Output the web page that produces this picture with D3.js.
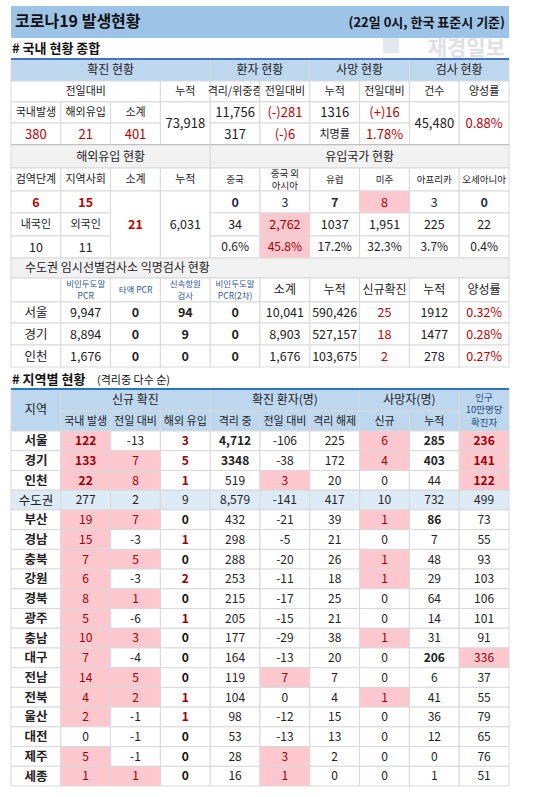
<!DOCTYPE html>
<html>
<head>
<meta charset="utf-8">
<script src="https://cdn.jsdelivr.net/npm/d3@7"></script>
<style>
  body { margin: 0; background: #fff; }
  text { font-family: "Noto Sans CJK KR", "Noto Sans", sans-serif; }
</style>
</head>
<body>
<svg id="chart" width="548" height="797"></svg>
<script>
// --- data ---
const summaryHead = ['확진 현황', '환자 현황', '사망 현황', '검사 현황'];
const summarySub = ['전일대비', '누적', '격리/위중증', '전일대비', '누적', '전일대비', '건수', '양성률'];
const summaryTop = ['국내발생', '해외유입', '소계', '73,918', '11,756', '(-)281', '1316', '(+)16', '45,480', '0.88%'];
const summaryBottom = ['380', '21', '401', '317', '(-)6', '치명률', '1.78%'];

const importCols = ['검역단계', '지역사회', '소계', '누적', '중국', '중국 외\n아시아', '유럽', '미주', '아프리카', '오세아니아'];
const importStage = ['6', '15'];
const importNation = ['내국인', '외국인'];
const importNationVals = ['10', '11'];
const importTotal = '21';
const importCum = '6,031';
const countryNew = [0, 3, 7, 8, 3, 0];
const countryCum = ['34', '2,762', '1037', '1,951', '225', '22'];
const countryPct = ['0.6%', '45.8%', '17.2%', '32.3%', '3.7%', '0.4%'];

const anonCols = ['', '비인두도말\nPCR', '타액 PCR', '신속항원\n검사', '비인두도말\nPCR(2차)', '소계', '누적', '신규확진', '누적', '양성률'];
const anonCity = ['서울', '경기', '인천'];
const anonPcr = ['9,947', '8,894', '1,676'];
const anonSaliva = ['0', '0', '0'];
const anonRapid = ['94', '9', '0'];
const anonPcr2 = ['0', '0', '0'];
const anonSub = ['10,041', '8,903', '1,676'];
const anonCum = ['590,426', '527,157', '103,675'];
const anonNew = ['25', '18', '2'];
const anonNewCum = ['1912', '1477', '278'];
const anonRate = ['0.32%', '0.28%', '0.27%'];

const regions = ['서울','경기','인천','수도권','부산','경남','충북','강원','경북','광주','충남','대구','전남','전북','울산','대전','제주','세종'];
const localCases = [122,133,22,277,19,15,7,6,8,5,10,7,14,4,2,0,5,1];
const localDiff = [-13,7,8,2,7,-3,5,-3,1,-6,3,-4,5,2,-1,-1,-1,1];
const importedCases = [3,5,1,9,0,1,0,2,0,1,0,0,0,1,1,0,0,0];
const isolating = ['4,712','3348','519','8,579','432','298','288','253','215','205','177','164','119','104','98','53','28','16'];
const isoDiff = [-106,-38,3,-141,-21,-5,-20,-11,-17,-15,-29,-13,7,0,-12,-13,3,1];
const released = [225,172,20,417,39,21,26,18,25,21,38,20,7,4,15,13,2,0];
const deathNew = [6,4,0,10,1,0,1,1,0,0,1,0,0,1,0,0,0,0];
const deathCum = [285,403,44,732,86,7,48,29,64,14,31,206,6,41,36,12,0,1];
const per100k = [236,141,122,499,73,55,93,103,106,101,91,336,37,55,79,65,76,51];

// --- drawing ---
const svg = d3.select('#chart');
const x = d3.scaleLinear().domain([0, 10]).range([11, 509]);
const BLUE = '#bdd7ee', GRAY = '#f2f2f2', PINK = '#ffc7ce', RED = '#c00000', DARKRED = '#9c0006';

function cell(c0, c1, y0, y1, txt, o = {}) {
  const g = svg.append('g');
  g.append('rect')
    .attr('x', x(c0)).attr('y', y0)
    .attr('width', x(c1) - x(c0)).attr('height', y1 - y0)
    .attr('fill', o.fill || '#fff')
    .attr('stroke', '#d9d9d9').attr('stroke-width', 1);
  if (txt === '' || txt == null) return;
  const lines = String(txt).split('\n');
  const fs = o.size || 12.5;
  const lh = fs * 1.35;
  const cx = o.left ? x(c0) + 14 : (x(c0) + x(c1)) / 2;
  const cy = (y0 + y1) / 2 - (lines.length - 1) * lh / 2;
  g.selectAll('text').data(lines).join('text')
    .attr('x', cx)
    .attr('y', (d, i) => cy + i * lh)
    .attr('dy', '0.36em')
    .attr('text-anchor', o.left ? 'start' : 'middle')
    .attr('font-size', fs)
    .attr('font-weight', o.bold ? 700 : 400)
    .attr('fill', o.color || '#222')
    .text(d => d);
}

// title bar
svg.append('rect').attr('x', 11).attr('y', 6).attr('width', 498).attr('height', 32).attr('fill', '#9dc3e6');
svg.append('text').attr('x', 15).attr('y', 27).attr('font-size', 16).attr('font-weight', 700).attr('fill', '#111').text('코로나19 발생현황');
svg.append('text').attr('x', 505).attr('y', 27).attr('text-anchor', 'end').attr('font-size', 13).attr('font-weight', 700).attr('fill', '#111').text('(22일 0시, 한국 표준시 기준)');
svg.append('text').attr('x', 505).attr('y', 55).attr('text-anchor', 'end').attr('font-size', 21).attr('font-weight', 700).attr('fill', '#dde1e6').text('재경일보');
svg.append('rect').attr('x', 383).attr('y', 38).attr('width', 16).attr('height', 15).attr('fill', '#e3e8ee');

function sectionTitle(y, t) {
  svg.append('text').attr('x', 12).attr('y', y).attr('font-size', 13).attr('font-weight', 700).attr('fill', '#111').text(t);
}

// section 1
sectionTitle(53, '# 국내 현황 종합');
const r1 = [59, 81, 102, 123, 145];
[[0, 4], [4, 6], [6, 8], [8, 10]].forEach((s, i) => cell(s[0], s[1], r1[0], r1[1], summaryHead[i], { fill: BLUE, size: 12 }));
[[0, 3], [3, 4], [4, 5], [5, 6], [6, 7], [7, 8], [8, 9], [9, 10]].forEach((s, i) => cell(s[0], s[1], r1[1], r1[2], summarySub[i], { size: 11 }));
cell(0, 1, r1[2], r1[3], summaryTop[0], { size: 11 });
cell(1, 2, r1[2], r1[3], summaryTop[1], { size: 11 });
cell(2, 3, r1[2], r1[3], summaryTop[2], { size: 11 });
cell(3, 4, r1[2], r1[4], summaryTop[3], { size: 13 });
cell(4, 5, r1[2], r1[3], summaryTop[4], { size: 13 });
cell(5, 6, r1[2], r1[3], summaryTop[5], { size: 13, color: RED });
cell(6, 7, r1[2], r1[3], summaryTop[6], { size: 13 });
cell(7, 8, r1[2], r1[3], summaryTop[7], { size: 13, color: RED });
cell(8, 9, r1[2], r1[4], summaryTop[8], { size: 13 });
cell(9, 10, r1[2], r1[4], summaryTop[9], { size: 13, color: RED });
[0, 1, 2, 4, 5, 6, 7].forEach((c, i) => {
  const t = summaryBottom[i];
  cell(c, c + 1, r1[3], r1[4], t, { size: t === '치명률' ? 11 : 13, color: (c === 4 || t === '치명률') ? '#222' : RED });
});
svg.append('line').attr('x1', 11).attr('x2', 509).attr('y1', 59).attr('y2', 59).attr('stroke', '#4472c4').attr('stroke-width', 2);
svg.append('line').attr('x1', 11).attr('x2', 509).attr('y1', 145).attr('y2', 145).attr('stroke', '#a6a6a6').attr('stroke-width', 2);

// section 2
const r2 = [145, 168, 191, 213, 236, 258];
cell(0, 4, r2[0], r2[1], '해외유입 현황', { fill: GRAY, size: 12 });
cell(4, 10, r2[0], r2[1], '유입국가 현황', { fill: GRAY, size: 12 });
importCols.forEach((t, i) => cell(i, i + 1, r2[1], r2[2], t, { size: i < 4 ? 11 : 9.5 }));
importStage.forEach((t, i) => cell(i, i + 1, r2[2], r2[3], t, { size: 12.5, bold: true, color: RED }));
importNation.forEach((t, i) => cell(i, i + 1, r2[3], r2[4], t, { size: 11 }));
importNationVals.forEach((t, i) => cell(i, i + 1, r2[4], r2[5], t, { size: 12.5 }));
cell(2, 3, r2[2], r2[5], importTotal, { size: 12.5, bold: true, color: RED });
cell(3, 4, r2[2], r2[5], importCum, { size: 12.5 });
countryNew.forEach((v, i) => cell(4 + i, 5 + i, r2[2], r2[3], v, { size: 12.5, bold: v === 0 || v === 7, fill: v === 8 ? PINK : '#fff', color: v === 8 ? DARKRED : '#1f2d4a' }));
countryCum.forEach((t, i) => cell(4 + i, 5 + i, r2[3], r2[4], t, { size: 12.5, fill: i === 1 ? PINK : '#fff', color: i === 1 ? DARKRED : '#222' }));
countryPct.forEach((t, i) => cell(4 + i, 5 + i, r2[4], r2[5], t, { size: 12, fill: i === 1 ? PINK : '#fff', color: i === 1 ? DARKRED : '#222' }));

// section 3
const r3 = [258, 278, 302, 323, 345, 367];
cell(0, 10, r3[0], r3[1], '수도권 임시선별검사소 익명검사 현황', { fill: GRAY, size: 12, left: true });
anonCols.forEach((t, i) => cell(i, i + 1, r3[1], r3[2], t, { size: i >= 1 && i <= 4 ? 8.5 : 12, color: i >= 1 && i <= 4 ? '#2f5597' : '#222' }));
anonCity.forEach((c, j) => {
  const y0 = r3[j + 2], y1 = r3[j + 3];
  const row = [c, anonPcr[j], anonSaliva[j], anonRapid[j], anonPcr2[j], anonSub[j], anonCum[j], anonNew[j], anonNewCum[j], anonRate[j]];
  row.forEach((t, i) => cell(i, i + 1, y0, y1, t, {
    size: 12.5, bold: i >= 2 && i <= 4, color: (i === 7 || i === 9) ? RED : '#222'
  }));
});

// section 4
sectionTitle(384, '# 지역별 현황');
svg.append('text').attr('x', 97).attr('y', 384).attr('font-size', 11).attr('fill', '#111').text('(격리중 다수 순)');
const hy = [389, 411, 431];
cell(0, 1, hy[0], hy[2], '지역', { fill: BLUE, size: 12 });
cell(1, 4, hy[0], hy[1], '신규 확진', { fill: BLUE, size: 12 });
cell(4, 7, hy[0], hy[1], '확진 환자(명)', { fill: BLUE, size: 12 });
cell(7, 9, hy[0], hy[1], '사망자(명)', { fill: BLUE, size: 12 });
cell(9, 10, hy[0], hy[2], '인구\n10만명당\n확진자', { fill: BLUE, size: 9.5, color: '#1f4e79' });
['국내 발생', '전일 대비', '해외 유입', '격리 중', '전일 대비', '격리 해제', '신규', '누적'].forEach((t, i) =>
  cell(i + 1, i + 2, hy[1], hy[2], t, { fill: BLUE, size: 11 }));
svg.append('line').attr('x1', 11).attr('x2', 509).attr('y1', 389).attr('y2', 389).attr('stroke', '#2e75b6').attr('stroke-width', 2);

const ry = d3.scaleLinear().domain([0, regions.length]).range([431, 786]);
regions.forEach((reg, j) => {
  const y0 = ry(j), y1 = ry(j + 1);
  const metro = reg === '수도권';
  const base = metro ? '#ddebf7' : '#fff';
  const pink = (on) => (!metro && on) ? { fill: PINK, color: DARKRED } : { fill: base, color: '#222' };
  cell(0, 1, y0, y1, reg, { fill: base, size: 12.5, bold: !metro });
  cell(1, 2, y0, y1, localCases[j], { size: 12, ...pink(localCases[j] > 0), bold: j < 3 });
  cell(2, 3, y0, y1, localDiff[j], { size: 12, ...pink(localDiff[j] > 0) });
  cell(3, 4, y0, y1, importedCases[j], { size: 12, fill: base, bold: !metro,
    color: metro ? '#222' : (importedCases[j] > 0 ? DARKRED : '#111') });
  cell(4, 5, y0, y1, isolating[j], { size: 12, fill: base, bold: j < 2 });
  cell(5, 6, y0, y1, isoDiff[j], { size: 12, ...pink(isoDiff[j] > 0) });
  cell(6, 7, y0, y1, released[j], { size: 12, fill: base });
  cell(7, 8, y0, y1, deathNew[j], { size: 12, ...pink(deathNew[j] > 0) });
  cell(8, 9, y0, y1, deathCum[j], { size: 12, fill: base, bold: !metro && deathCum[j] >= 80 });
  cell(9, 10, y0, y1, per100k[j], { size: 12, ...pink(per100k[j] > 110), bold: !metro && per100k[j] > 110 && j < 3 });
});
</script>
</body>
</html>
